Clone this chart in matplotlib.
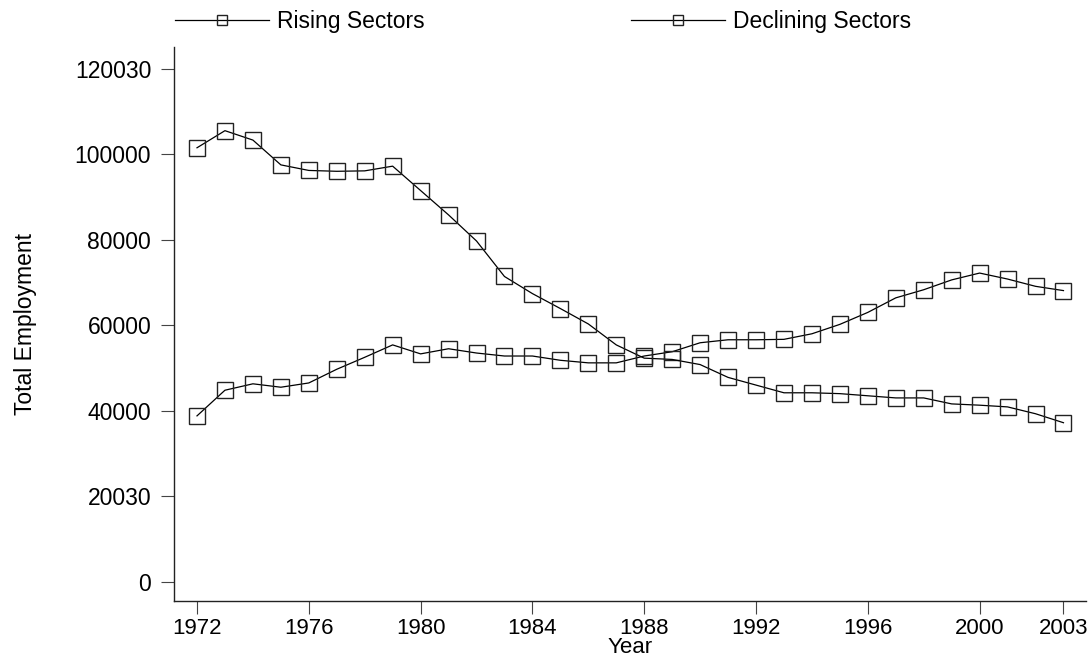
import numpy as np
import matplotlib as mpl
import matplotlib.pyplot as plt

mpl.rc('font', family=['Liberation Sans', 'DejaVu Sans'], size=16.5)

years = np.arange(1972, 2004)
rising = [38800, 44800, 46300, 45500, 46500, 49700, 52500, 55400, 53300, 54500,
          53500, 52800, 52800, 51800, 51200, 51200, 52800, 53800, 55900, 56600,
          56600, 56700, 58000, 60200, 63000, 66400, 68300, 70600, 72200, 70800,
          69100, 68100]
declining = [101500, 105500, 103300, 97500, 96200, 96000, 96100, 97200, 91500, 85800,
             79700, 71400, 67400, 63900, 60300, 55400, 52300, 52000, 50800, 47800,
             46000, 44200, 44200, 44000, 43500, 43000, 43000, 41600, 41300, 40900,
             39300, 37200]
yticks = [0, 20000, 40000, 60000, 80000, 100000, 120000]
ytick_labels = ['0', '20030', '40000', '60000', '80000', '100000', '120030']
xticks = [1972, 1976, 1980, 1984, 1988, 1992, 1996, 2000, 2003]

fig = plt.figure(figsize=(10.88, 6.6), dpi=100)
ax = fig.add_axes([0.16, 0.09, 0.838, 0.839])

mk = dict(marker='s', markersize=11.5, markerfacecolor='none', markeredgecolor='#222222',
          markeredgewidth=1.0, color='black', linewidth=0.9)
ax.plot(years, rising, label='Rising Sectors', **mk)
ax.plot(years, declining, label='Declining Sectors', **mk)

ax.set_xlim(1971.18, 2003.8)
ax.set_ylim(-4400, 125100)
ax.set_yticks(yticks)
ax.set_yticklabels(ytick_labels)
ax.set_xticks(xticks)
ax.tick_params(length=9.5, width=0.8, color='#444444')
ax.tick_params(axis='y', pad=7)
ax.tick_params(axis='x', pad=3, labelsize=16)
for s in ['top', 'right']:
    ax.spines[s].set_visible(False)
for s in ['left', 'bottom']:
    ax.spines[s].set_linewidth(1.0)
    ax.spines[s].set_color('#222222')

ax.set_xlabel('Year', labelpad=-1.5, fontsize=16)
ax.set_ylabel('Total Employment', labelpad=27)

leg = fig.legend(loc='upper left', bbox_to_anchor=(175 / 1088, 0.985), ncol=2, frameon=False,
                 handlelength=4.1, columnspacing=9.0, handletextpad=0.35,
                 borderpad=0, borderaxespad=0)
for h in leg.legend_handles:
    h.set_markersize(7)

plt.savefig('out.png', dpi=100)
